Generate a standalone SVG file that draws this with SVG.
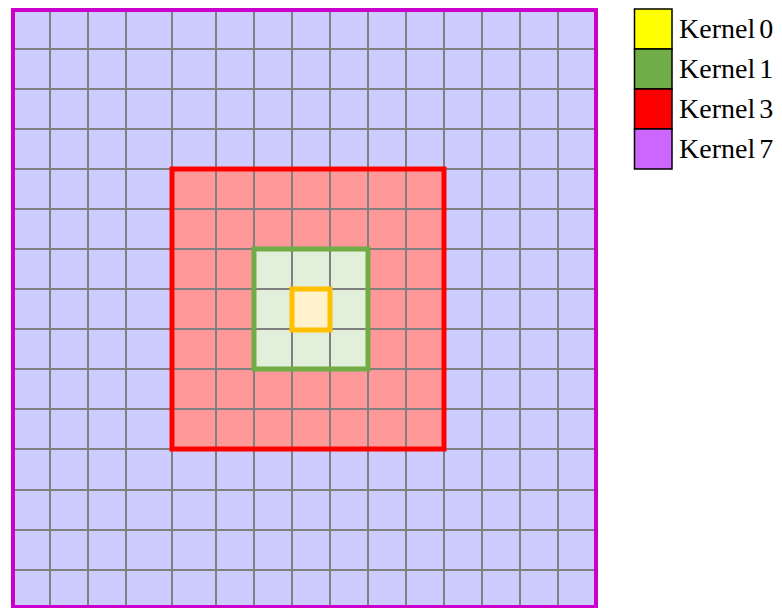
<svg xmlns="http://www.w3.org/2000/svg" width="782" height="608" viewBox="0 0 782 608">
<style>
.grid{stroke:#808080;stroke-width:2;fill:none}
.lbl{font-family:"Liberation Serif","Times New Roman",serif;font-size:28px;word-spacing:-3px;fill:#000}
.sw{stroke:#000;stroke-width:1.5}
</style>
<rect width="782" height="608" fill="#fff"/>
<g id="kernel7-fill"><rect x="13" y="10" width="583" height="597" fill="#CCCCFF"/></g>
<g id="kernel3-fill"><rect x="172" y="169" width="272" height="280" fill="#FF9999"/></g>
<g id="kernel1-fill"><rect x="254" y="249" width="114" height="120" fill="#E2EFDA"/></g>
<g id="kernel0-fill"><rect x="292" y="289" width="38" height="41" fill="#FFF2CC"/></g>
<g id="grid">
<path class="grid" d="M50 10V607M88 10V607M126 10V607M172 10V607M216 10V607M254 10V607M292 10V607M330 10V607M368 10V607M406 10V607M444 10V607M482 10V607M520 10V607M558 10V607"/>
<path class="grid" d="M13 49H596M13 89H596M13 129H596M13 169H596M13 209H596M13 249H596M13 289H596M13 329H596M13 369H596M13 409H596M13 449H596M13 490H596M13 530H596M13 570H596"/>
</g>
<g id="kernel7"><rect x="13" y="10" width="583" height="597" fill="none" stroke="#CC00CC" stroke-width="4"/></g>
<g id="kernel3"><rect x="172" y="169" width="272" height="280" fill="none" stroke="#FF0000" stroke-width="5"/></g>
<g id="kernel1"><rect x="254" y="249" width="114" height="120" fill="none" stroke="#70AD47" stroke-width="5"/></g>
<g id="kernel0"><rect x="292" y="289" width="38" height="41" fill="none" stroke="#FFC000" stroke-width="5"/></g>
<g id="legend">
<g id="legend-k0"><rect class="sw" x="634.5" y="9" width="37.5" height="40" fill="#FFFF00"/><text class="lbl" x="679" y="38">Kernel 0</text></g>
<g id="legend-k1"><rect class="sw" x="634.5" y="49" width="37.5" height="40" fill="#70AD47"/><text class="lbl" x="679" y="78">Kernel 1</text></g>
<g id="legend-k3"><rect class="sw" x="634.5" y="89" width="37.5" height="40" fill="#FF0000"/><text class="lbl" x="679" y="118">Kernel 3</text></g>
<g id="legend-k7"><rect class="sw" x="634.5" y="129" width="37.5" height="40" fill="#CC66FF"/><text class="lbl" x="679" y="158">Kernel 7</text></g>
</g>
<g id="connectors"/>
</svg>
